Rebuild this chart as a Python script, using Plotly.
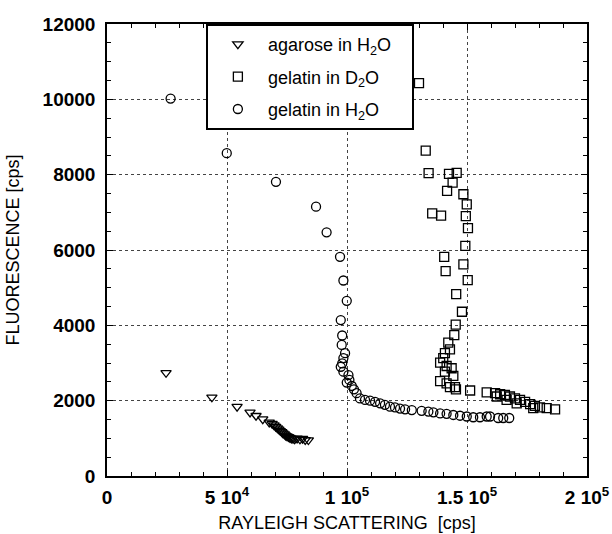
import plotly.graph_objects as go

# ---- data ----
agarose_x = [24600, 43700, 54200, 59600, 62100, 64900, 67600, 68800, 69600, 70300,
             71000, 71600, 72200, 72800, 73300, 73900, 74400, 75000, 75600, 76200,
             76800, 77500, 78200, 79200, 80400, 81500, 82600, 83900]
agarose_y = [2740, 2090, 1840, 1690, 1600, 1510, 1425, 1390, 1350, 1310,
             1270, 1240, 1200, 1170, 1140, 1110, 1080, 1060, 1040, 1020,
             1000, 990, 980, 1000, 975, 990, 960, 955]

gel_d2o_x = [130000, 132800, 134000, 142500, 145700, 144000, 141700, 148500, 149900, 149500,
             150400, 135500, 139200, 149300, 140500, 148500, 150300, 141100, 145500, 147900,
             145300, 144700, 142200, 142900, 140800, 140100, 138800, 141500, 143600, 140800,
             144300, 138800, 141500, 142900, 145000, 145400, 151300, 158200, 161700, 162400,
             163800, 165800, 166500, 167900, 170000, 170700, 172100, 174200, 176300, 177600,
             178300, 180400, 183200, 186700]
gel_d2o_y = [10430, 8640, 8040, 8020, 8050, 7790, 7570, 7480, 7210, 6900,
             6580, 6970, 6910, 6110, 5820, 5620, 5200, 5440, 4830, 4360,
             4020, 3740, 3540, 3360, 3260, 3130, 3010, 2920, 2860, 2770,
             2660, 2520, 2460, 2360, 2360, 2300, 2270, 2220, 2200, 2110,
             2170, 2150, 2020, 2110, 2060, 1930, 2020, 1970, 1910, 1800,
             1860, 1820, 1800, 1770]

gel_h2o_x = [26500, 49900, 70400, 87100, 91500, 97100, 98500, 99900, 97400, 98000,
             97800, 99200, 98500, 98000, 97400, 98500, 100600, 101000, 99900, 102000,
             102900, 104000, 105400, 107500, 109600, 111700, 113800, 115800, 117900, 120000,
             122100, 124200, 127000, 131100, 133900, 136000, 138800, 141500, 144300, 147100,
             149900, 152600, 155400, 158200, 159600, 163000, 165100, 167600]
gel_h2o_y = [10020, 8570, 7810, 7150, 6470, 5820, 5190, 4650, 4140, 3730,
             3480, 3260, 3130, 2990, 2900, 2770, 2680, 2550, 2480, 2390,
             2300, 2200, 2060, 2020, 2000, 1970, 1930, 1890, 1840, 1820,
             1790, 1770, 1750, 1730, 1710, 1690, 1660, 1650, 1620, 1600,
             1580, 1560, 1560, 1580, 1580, 1540, 1540, 1540]

x_tickvals = [0, 50000, 100000, 150000, 200000]
x_ticktext = ["0", "5 10<sup>4</sup>", "1 10<sup>5</sup>", "1.5 10<sup>5</sup>", "2 10<sup>5</sup>"]
y_tickvals = [0, 2000, 4000, 6000, 8000, 10000, 12000]
y_ticktext = ["0", "2000", "4000", "6000", "8000", "10000", "12000"]

FONT = "Liberation Sans, Arial, Helvetica, sans-serif"
NB = "\u00a0"

fig = go.Figure()
mk = dict(color="black", line=dict(color="black", width=1.3))
fig.add_trace(go.Scatter(x=agarose_x, y=agarose_y, mode="markers",
                         name="agarose in H<sub>2</sub>O" + NB * 3, legendgroup="a",
                         marker=dict(symbol="triangle-down-open", size=9, **mk)))
fig.add_trace(go.Scatter(x=gel_d2o_x, y=gel_d2o_y, mode="markers",
                         name="gelatin in D<sub>2</sub>O", legendgroup="b",
                         marker=dict(symbol="square-open", size=9, **mk)))
fig.add_trace(go.Scatter(x=gel_h2o_x, y=gel_h2o_y, mode="markers",
                         name="gelatin in H<sub>2</sub>O", legendgroup="c",
                         marker=dict(symbol="circle-open", size=9, **mk)))

axis_common = dict(
    showline=True, linecolor="black", linewidth=1.5, mirror="allticks",
    ticks="inside", ticklen=6, tickcolor="black", tickwidth=1,
    showgrid=True, gridcolor="#444", griddash="dot", gridwidth=1,
    zeroline=False,
    tickfont=dict(family=FONT, size=19, color="black", weight="bold"),
)

fig.update_xaxes(range=[0, 200000], tickmode="array", tickvals=x_tickvals, ticktext=x_ticktext,
                 minor=dict(tickmode="linear", tick0=0, dtick=10000, ticks="inside",
                            ticklen=4, tickcolor="black", showgrid=False),
                 title=dict(text="RAYLEIGH SCATTERING  [cps]",
                            font=dict(family=FONT, size=18, color="black"), standoff=10),
                 ticklabelstandoff=3,
                 **axis_common)
fig.update_yaxes(range=[0, 12000], tickmode="array", tickvals=y_tickvals, ticktext=y_ticktext,
                 minor=dict(tickmode="linear", tick0=0, dtick=500, ticks="inside",
                            ticklen=4, tickcolor="black", showgrid=False),
                 title=dict(text="FLUORESCENCE [cps]",
                            font=dict(family=FONT, size=18, color="black"), standoff=18),
                 ticklabelstandoff=6,
                 **axis_common)

fig.update_layout(
    width=612, height=534,
    margin=dict(l=107, r=25, t=24, b=58, autoexpand=False),
    paper_bgcolor="white", plot_bgcolor="white",
    showlegend=True,
    legend=dict(x=0.206, y=1, xanchor="left", yanchor="top",
                bordercolor="black", borderwidth=2, bgcolor="white",
                font=dict(family=FONT, size=18, color="black"),
                traceorder="grouped", tracegroupgap=6, itemwidth=50,
                itemsizing="trace"),
    font=dict(family=FONT, color="black"),
)

fig.write_html("out.html")
